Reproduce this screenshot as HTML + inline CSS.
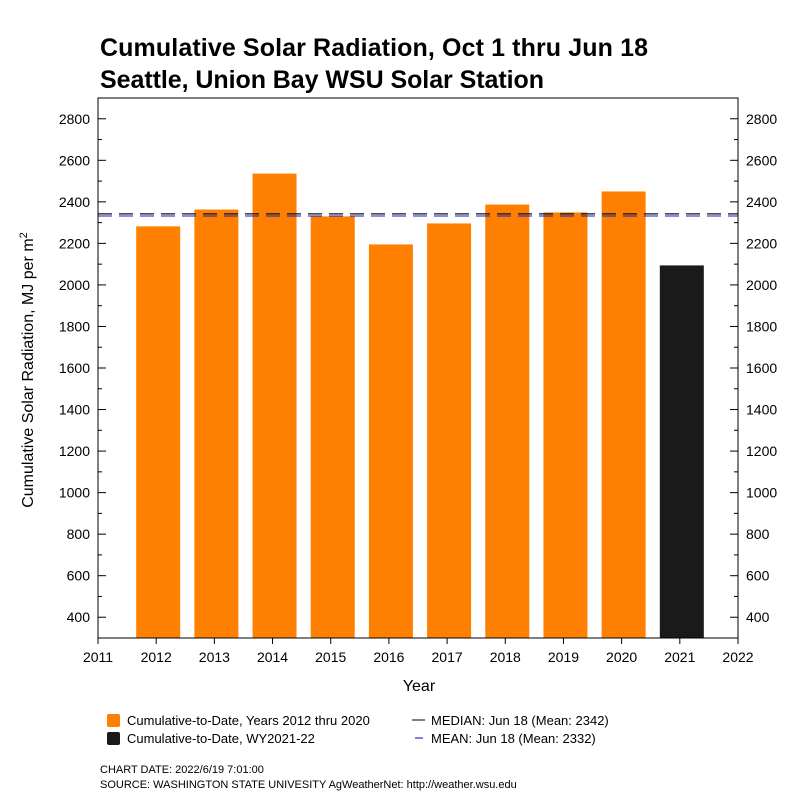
<!DOCTYPE html>
<html><head><meta charset="utf-8"><style>
body{margin:0;background:#fff;font-family:"Liberation Sans",Arial,sans-serif}
</style></head><body>
<svg id="chart" width="800" height="800" xmlns="http://www.w3.org/2000/svg">
<text x="100" y="56" font-size="25" font-weight="bold" textLength="548">Cumulative Solar Radiation, Oct 1 thru Jun 18</text>
<text x="100" y="88" font-size="25" font-weight="bold" textLength="444">Seattle, Union Bay WSU Solar Station</text>
<g id="plot"></g>
<text x="419" y="691" font-size="16" text-anchor="middle">Year</text>
<text transform="translate(33,370) rotate(-90)" font-size="16" text-anchor="middle">Cumulative Solar Radiation, MJ per m<tspan font-size="11" dy="-6">2</tspan></text>
<g font-size="13">
<rect x="107" y="714" width="13" height="13" rx="2" fill="#ff8000"/>
<text x="127" y="725">Cumulative-to-Date, Years 2012 thru 2020</text>
<rect x="107" y="732" width="13" height="13" rx="2" fill="#1a1a1a"/>
<text x="127" y="743">Cumulative-to-Date, WY2021-22</text>
<line x1="412" y1="720" x2="425" y2="720" stroke="#000"/>
<text x="431" y="725">MEDIAN: Jun 18 (Mean: 2342)</text>
<line x1="415" y1="738" x2="423" y2="738" stroke="#00c"/>
<text x="431" y="743">MEAN: Jun 18 (Mean: 2332)</text>
</g>
<text x="100" y="773" font-size="11">CHART DATE: 2022/6/19 7:01:00</text>
<text x="100" y="788" font-size="11">SOURCE: WASHINGTON STATE UNIVESITY AgWeatherNet: http://weather.wsu.edu</text>
</svg>
<script>
const years=[2012,2013,2014,2015,2016,2017,2018,2019,2020,2021];
const values=[2282,2363,2536,2330,2195,2296,2387,2349,2450,2094];
const medianValue=2342;
const meanValue=2332;
const yTicks=[400,600,800,1000,1200,1400,1600,1800,2000,2200,2400,2600,2800];
const xTicks=[2011,2012,2013,2014,2015,2016,2017,2018,2019,2020,2021,2022];
const L=98,R=738,T=98,B=638,X0=2011,X1=2022,Y0=300,Y1=2900;
const xs=v=>L+(v-X0)/(X1-X0)*(R-L);
const ys=v=>B-(v-Y0)/(Y1-Y0)*(B-T);
const NS="http://www.w3.org/2000/svg";
const g=document.getElementById('plot');
function mk(t,a){const e=document.createElementNS(NS,t);for(const k in a)e.setAttribute(k,a[k]);g.appendChild(e);return e;}
years.forEach((yr,i)=>{
 const w=44;
 const r=mk('rect',{x:xs(yr)-w/2+2,y:ys(values[i]),width:w,height:B-ys(values[i]),fill:i===years.length-1?'#1a1a1a':'#ff8000'});
 
 
});
const med=mk('line',{x1:L,x2:R,y1:ys(medianValue),y2:ys(medianValue),stroke:'#111','stroke-width':1.3,'stroke-dasharray':'14,7'});


const mn=mk('line',{x1:L,x2:R,y1:ys(meanValue),y2:ys(meanValue),stroke:'#1a1acc','stroke-width':1,'stroke-dasharray':'14,7'});


const frame=mk('rect',{x:L,y:T,width:R-L,height:B-T,fill:'none',stroke:'#000','stroke-width':1});


for(let v=400;v<=2900;v+=100){
 const major=yTicks.includes(v),len=major?8:4;
 mk('line',{x1:L,x2:L+len,y1:ys(v),y2:ys(v),stroke:'#000'});
 mk('line',{x1:R-len,x2:R,y1:ys(v),y2:ys(v),stroke:'#000'});
}
yTicks.forEach(v=>{
 const a=mk('text',{x:L-8,y:ys(v)+5,'font-size':14,'text-anchor':'end'});a.textContent=v;
 
 
 const b=mk('text',{x:R+8,y:ys(v)+5,'font-size':14});b.textContent=v;
 
 
});
xTicks.forEach(v=>{
 mk('line',{x1:xs(v),x2:xs(v),y1:B,y2:B+6,stroke:'#000'});
 const t=mk('text',{x:xs(v),y:B+24,'font-size':14,'text-anchor':'middle'});t.textContent=v;
 
 
});
</script>
</body></html>
